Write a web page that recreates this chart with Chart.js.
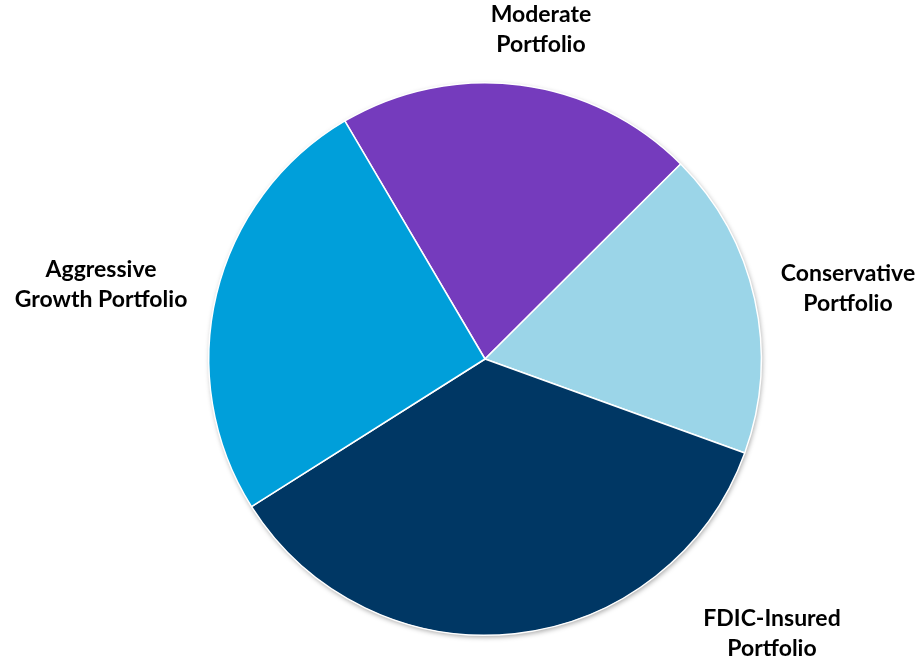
<!DOCTYPE html>
<html>
<head>
<meta charset="utf-8">
<script src="https://cdn.jsdelivr.net/npm/chart.js@4.4.0/dist/chart.umd.min.js"></script>
<style>
  html, body { margin: 0; padding: 0; background: #fff; }
  #wrap { width: 920px; height: 661px; position: relative; }
</style>
</head>
<body>
<div id="wrap"><canvas id="portfolioChart"></canvas></div>
<script>
// ===== Data =====
const portfolioNames = [
  ['Moderate', 'Portfolio'],
  ['Conservative', 'Portfolio'],
  ['FDIC-Insured', 'Portfolio'],
  ['Aggressive', 'Growth Portfolio']
];
const portfolioShares = [21, 18, 35.5, 25.5];
const sliceColors = ['#753BBD', '#9BD5E8', '#003764', '#009FDA'];

// label centre offsets from the pie centre (px)
const labelOffsets = [[56, -329], [363, -70], [287, 275], [-384, -74]];

// soft shadow under the pie
const pieShadow = {
  id: 'pieShadow',
  beforeDatasetsDraw(chart) {
    const arc = chart.getDatasetMeta(0).data[0];
    if (!arc) return;
    const ctx = chart.ctx;
    ctx.save();
    ctx.shadowColor = 'rgba(0,0,0,0.35)';
    ctx.shadowBlur = 5;
    ctx.shadowOffsetX = 1;
    ctx.shadowOffsetY = 2;
    ctx.fillStyle = '#fff';
    ctx.beginPath();
    ctx.arc(arc.x, arc.y, arc.outerRadius, 0, Math.PI * 2);
    ctx.fill();
    ctx.restore();
  }
};

// category labels around the pie
const outerLabels = {
  id: 'outerLabels',
  afterDatasetsDraw(chart) {
    const arcs = chart.getDatasetMeta(0).data;
    const ctx = chart.ctx;
    ctx.save();
    ctx.font = "bold 23px Lato, 'Open Sans', sans-serif";
    ctx.fillStyle = '#000';
    ctx.textAlign = 'center';
    ctx.textBaseline = 'middle';
    arcs.forEach((arc, i) => {
      const lines = chart.data.labels[i];
      const cx = arc.x + labelOffsets[i][0];
      const cy = arc.y + labelOffsets[i][1];
      lines.forEach((line, j) => {
        ctx.fillText(line, cx, cy + (j - (lines.length - 1) / 2) * 30);
      });
    });
    ctx.restore();
  }
};

new Chart(document.getElementById('portfolioChart'), {
  type: 'pie',
  data: {
    labels: portfolioNames,
    datasets: [{
      data: portfolioShares,
      backgroundColor: sliceColors,
      borderColor: '#fff',
      borderWidth: 1.5
    }]
  },
  options: {
    responsive: true,
    maintainAspectRatio: false,
    animation: false,
    rotation: -30.5,
    layout: { padding: { top: 82, bottom: 25, left: 208, right: 158 } },
    plugins: {
      legend: { display: false },
      tooltip: { enabled: false }
    }
  },
  plugins: [pieShadow, outerLabels]
});
</script>
</body>
</html>
